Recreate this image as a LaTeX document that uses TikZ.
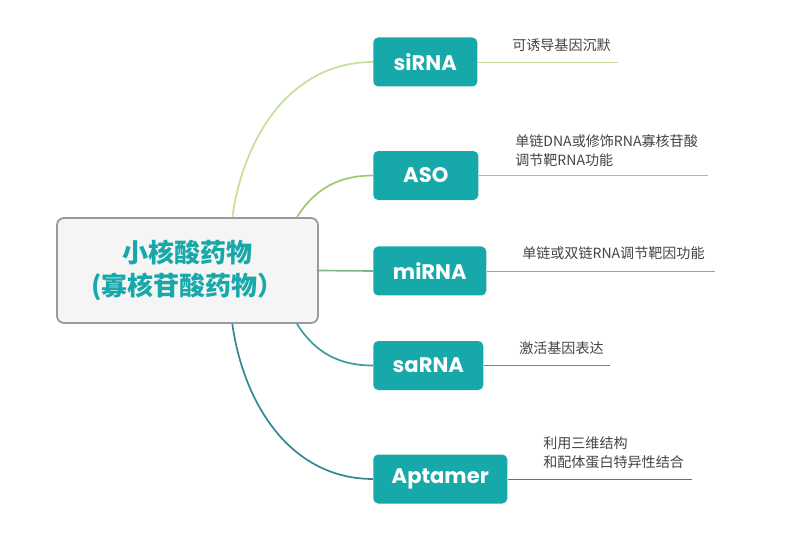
\documentclass[tikz,border=0pt]{standalone}
\usepackage{fontspec}
\setmainfont{Noto Sans CJK SC}
\newfontfamily\ramofont{Poppins}

\definecolor{verdeacqua}{HTML}{17A8A9}
\definecolor{grigio}{HTML}{F5F5F5}
\definecolor{bordo}{HTML}{9A9A9A}
\definecolor{testo}{HTML}{444444}
\definecolor{cuno}{HTML}{C4DF98}
\definecolor{cdue}{HTML}{A3C76F}
\definecolor{ctre}{HTML}{7DB785}
\definecolor{cquattro}{HTML}{3E9A9D}
\definecolor{ccinque}{HTML}{2F8892}

\begin{document}
\begin{tikzpicture}[
    x=1cm,y=1cm,
    radice/.style={draw=bordo,line width=1.3pt,fill=grigio,rounded corners=5pt,
      minimum width=6.525cm,minimum height=2.625cm,align=center,text=verdeacqua,
      font=\bfseries\fontsize{18.5}{24}\selectfont},
    ramo/.style={fill=verdeacqua,rounded corners=3.5pt,anchor=west,inner sep=0pt,
      minimum height=1.225cm,text=white,font=\ramofont\bfseries\fontsize{15}{17}\selectfont},
    nota/.style={anchor=west,inner sep=0pt,align=left,text=testo,
      font=\fontsize{10}{13.5}\selectfont},
    arco/.style={line width=1.2pt},
    riga/.style={line width=0.7pt}]

  \useasboundingbox (0,0) rectangle (20,-13.575);

  % ---- nodi ------------------------------------------------------------
  \node[radice] (centro) at (4.6875,-6.7625) {小核酸药物\\(寡核苷酸药物）};

  \node[ramo,minimum width=2.600cm] (sirna)   at (9.325, -1.550) {siRNA};
  \node[ramo,minimum width=2.625cm] (aso)     at (9.325, -4.388) {ASO};
  \node[ramo,minimum width=2.825cm] (mirna)   at (9.325, -6.775) {miRNA};
  \node[ramo,minimum width=2.750cm] (sarna)   at (9.325, -9.138) {saRNA};
  \node[ramo,minimum width=3.350cm] (aptamer) at (9.325,-11.975) {Aptamer};

  % ---- fine delle righe ------------------------------------------------
  \coordinate (fsirna)   at (15.450, -1.550);
  \coordinate (faso)     at (17.700, -4.388);
  \coordinate (fmirna)   at (17.875, -6.775);
  \coordinate (fsarna)   at (15.250, -9.138);
  \coordinate (faptamer) at (17.300,-11.975);

  % ---- archi -----------------------------------------------------------
  \draw[arco,cuno]     (centro.50)  to[out=82,in=180]  (sirna.west);
  \draw[arco,cdue]     (centro.26)  to[out=58,in=180]  (aso.west);
  \draw[arco,ctre]     (centro.east) -- (mirna.west);
  \draw[arco,cquattro] (centro.-26) to[out=-58,in=180] (sarna.west);
  \draw[arco,ccinque]  (centro.-50) to[out=-82,in=180] (aptamer.west);

  % ---- righe sotto le note ---------------------------------------------
  \draw[riga,cuno]     (sirna.east)   -- (fsirna);
  \draw[riga,cdue]     (aso.east)     -- (faso);
  \draw[riga,ctre]     (mirna.east)   -- (fmirna);
  \draw[riga,cquattro] (sarna.east)   -- (fsarna);
  \draw[riga,ccinque]  (aptamer.east) -- (faptamer);

  % ---- note ------------------------------------------------------------
  \node[nota] (nsirna)   at (12.800, -1.125) {可诱导基因沉默};
  \node[nota] (naso)     at (12.875, -3.763) {单链DNA或修饰RNA寡核苷酸\\调节靶RNA功能};
  \node[nota] (nmirna)   at (13.050, -6.325) {单链或双链RNA调节靶因功能};
  \node[nota] (nsarna)   at (12.975, -8.700) {激活基因表达};
  \node[nota] (naptamer) at (13.575,-11.325) {利用三维结构\\和配体蛋白特异性结合};

\end{tikzpicture}
\end{document}
